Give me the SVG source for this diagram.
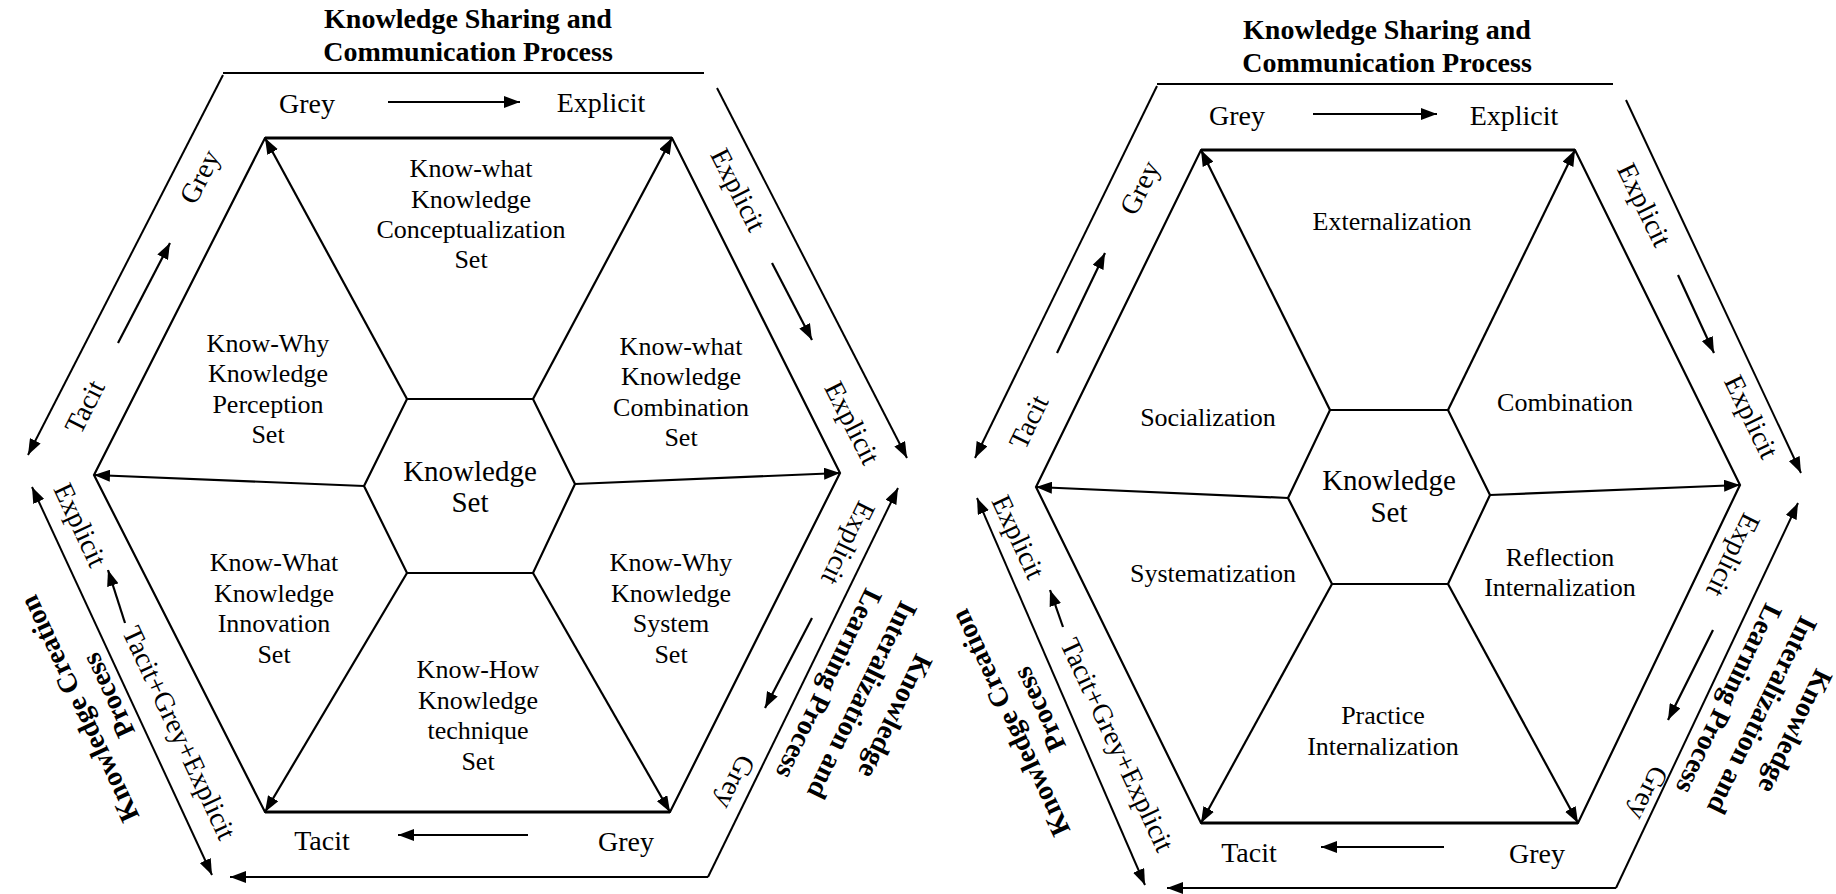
<svg xmlns="http://www.w3.org/2000/svg" width="1836" height="894" viewBox="0 0 1836 894">
  <style>
    text { font-family: "Liberation Serif", "Times New Roman", serif; fill: #000; text-anchor: middle; }
    .lbl { font-size: 26px; }
    .core { font-size: 29px; }
    .kind { font-size: 28px; }
    .proc { font-size: 28px; font-weight: bold; }
    .edge { fill: none; stroke: #000; stroke-width: 2.2; stroke-linejoin: miter; }
    .rim { fill: none; stroke: #000; stroke-width: 3; }
    .spoke { fill: none; stroke: #000; stroke-width: 2.2; marker-end: url(#ah); }
    .band { fill: none; stroke: #000; stroke-width: 2; }
    .band-a { fill: none; stroke: #000; stroke-width: 2; marker-end: url(#ah); }
    .band-aa { fill: none; stroke: #000; stroke-width: 2; marker-start: url(#ahs); marker-end: url(#ah); }
    .flow { fill: none; stroke: #000; stroke-width: 2.2; marker-end: url(#ah); }
  </style>
  <defs>
    <marker id="ah" viewBox="0 0 16 12" refX="16" refY="6" markerWidth="16" markerHeight="12" markerUnits="userSpaceOnUse" orient="auto">
      <path d="M0,0 L16,6 L0,12 z" fill="#000"/>
    </marker>
    <marker id="ahs" viewBox="0 0 16 12" refX="16" refY="6" markerWidth="16" markerHeight="12" markerUnits="userSpaceOnUse" orient="auto-start-reverse">
      <path d="M0,0 L16,6 L0,12 z" fill="#000"/>
    </marker>
  </defs>
  <rect width="1836" height="894" fill="#fff"/>

  <!-- ===== Left model: knowledge sets ===== -->
  <g id="left-frame">
    <polygon class="edge" points="265,138 672,138 840,473 670,812 265,812 94,475"/>
    <line class="rim" x1="265" y1="138" x2="672" y2="138"/>
    <line class="rim" x1="265" y1="812" x2="670" y2="812"/>
  </g>
  <g id="left-core">
    <polygon class="edge" points="407,399 533,399 575,484 533,573 407,573 364,486"/>
    <text class="core"><tspan x="470" y="481">Knowledge</tspan><tspan x="470" y="512">Set</tspan></text>
  </g>
  <g id="left-conceptualization">
    <text class="lbl"><tspan x="471" y="177">Know-what</tspan><tspan x="471" y="208">Knowledge</tspan><tspan x="471" y="238">Conceptualization</tspan><tspan x="471" y="268">Set</tspan></text>
  </g>
  <g id="left-perception">
    <text class="lbl"><tspan x="268" y="352">Know-Why</tspan><tspan x="268" y="382">Knowledge</tspan><tspan x="268" y="413">Perception</tspan><tspan x="268" y="443">Set</tspan></text>
  </g>
  <g id="left-combination">
    <text class="lbl"><tspan x="681" y="355">Know-what</tspan><tspan x="681" y="385">Knowledge</tspan><tspan x="681" y="416">Combination</tspan><tspan x="681" y="446">Set</tspan></text>
  </g>
  <g id="left-innovation">
    <text class="lbl"><tspan x="274" y="571">Know-What</tspan><tspan x="274" y="602">Knowledge</tspan><tspan x="274" y="632">Innovation</tspan><tspan x="274" y="663">Set</tspan></text>
  </g>
  <g id="left-system">
    <text class="lbl"><tspan x="671" y="571">Know-Why</tspan><tspan x="671" y="602">Knowledge</tspan><tspan x="671" y="632">System</tspan><tspan x="671" y="663">Set</tspan></text>
  </g>
  <g id="left-technique">
    <text class="lbl"><tspan x="478" y="678">Know-How</tspan><tspan x="478" y="709">Knowledge</tspan><tspan x="478" y="739">technique</tspan><tspan x="478" y="770">Set</tspan></text>
  </g>

  <!-- left model: process captions -->
  <g id="left-sharing-process">
    <text class="proc"><tspan x="468" y="28">Knowledge Sharing and</tspan><tspan x="468" y="61">Communication Process</tspan></text>
  </g>
  <g id="left-creation-process" transform="translate(94,702) rotate(-115)">
    <text class="proc"><tspan x="0" y="-7">Knowledge Creation</tspan><tspan x="0" y="25">Process</tspan></text>
  </g>
  <g id="left-learning-process" transform="translate(862,700) rotate(116)">
    <text class="proc"><tspan x="0" y="-28">Knowledge</tspan><tspan x="0" y="9">Interalization and</tspan><tspan x="0" y="46">Learning Process</tspan></text>
  </g>

  <!-- left model: knowledge-state words -->
  <g id="left-states">
    <text class="kind" x="307" y="113">Grey</text>
    <text class="kind" x="601" y="112">Explicit</text>
    <text class="kind" x="322" y="850">Tacit</text>
    <text class="kind" x="626" y="851">Grey</text>
    <text class="kind" transform="translate(200,177) rotate(-63)" x="0" y="9">Grey</text>
    <text class="kind" transform="translate(85,407) rotate(-63)" x="0" y="9">Tacit</text>
    <text class="kind" transform="translate(738,190) rotate(63)" x="0" y="9">Explicit</text>
    <text class="kind" transform="translate(852,423) rotate(63)" x="0" y="9">Explicit</text>
    <text class="kind" transform="translate(80,525) rotate(65)" x="0" y="9">Explicit</text>
    <text class="kind" transform="translate(848,543) rotate(116)" x="0" y="9">Explicit</text>
    <text class="kind" transform="translate(735,782) rotate(116)" x="0" y="9">Grey</text>
    <text class="kind" transform="translate(179,733) rotate(65)" x="0" y="9">Tacit+Grey+Explicit</text>
  </g>

  <g id="left-connectors">
    <!-- spokes from the core to the frame corners -->
    <line class="spoke" x1="407" y1="399" x2="265" y2="138"/>
    <line class="spoke" x1="533" y1="399" x2="672" y2="138"/>
    <line class="spoke" x1="575" y1="484" x2="840" y2="473"/>
    <line class="spoke" x1="533" y1="573" x2="670" y2="812"/>
    <line class="spoke" x1="407" y1="573" x2="265" y2="812"/>
    <line class="spoke" x1="364" y1="486" x2="94" y2="475"/>
    <!-- outer band -->
    <line class="band" x1="223" y1="73" x2="704" y2="73"/>
    <line class="band-a" x1="223" y1="75" x2="28" y2="455"/>
    <line class="band-a" x1="717" y1="88" x2="907" y2="458"/>
    <line class="band-a" x1="708" y1="877" x2="898" y2="488"/>
    <line class="band-a" x1="708" y1="877" x2="230" y2="877"/>
    <line class="band-aa" x1="212" y1="875" x2="32" y2="487"/>
    <!-- short flow arrows -->
    <line class="flow" x1="388" y1="102" x2="520" y2="102"/>
    <line class="flow" x1="118" y1="343" x2="170" y2="243"/>
    <line class="flow" x1="772" y1="263" x2="812" y2="340"/>
    <line class="flow" x1="812" y1="618" x2="765" y2="708"/>
    <line class="flow" x1="528" y1="835" x2="398" y2="835"/>
    <line class="flow" x1="125" y1="623" x2="108" y2="570"/>
  </g>

  <!-- ===== Right model: conversion modes ===== -->
  <g id="right-frame">
    <polygon class="edge" points="1201,150 1575,150 1740,485 1578,823 1201,823 1036,487"/>
    <line class="rim" x1="1201" y1="150" x2="1575" y2="150"/>
    <line class="rim" x1="1201" y1="823" x2="1578" y2="823"/>
  </g>
  <g id="right-core">
    <polygon class="edge" points="1330,410 1448,410 1490,495 1448,584 1332,584 1288,498"/>
    <text class="core"><tspan x="1389" y="490">Knowledge</tspan><tspan x="1389" y="522">Set</tspan></text>
  </g>
  <g id="right-externalization"><text class="lbl" x="1392" y="230">Externalization</text></g>
  <g id="right-socialization"><text class="lbl" x="1208" y="426">Socialization</text></g>
  <g id="right-combination"><text class="lbl" x="1565" y="411">Combination</text></g>
  <g id="right-systematization"><text class="lbl" x="1213" y="582">Systematization</text></g>
  <g id="right-reflection">
    <text class="lbl"><tspan x="1560" y="566">Reflection</tspan><tspan x="1560" y="596">Internalization</tspan></text>
  </g>
  <g id="right-practice">
    <text class="lbl"><tspan x="1383" y="724">Practice</tspan><tspan x="1383" y="755">Internalization</tspan></text>
  </g>

  <!-- right model: process captions -->
  <g id="right-sharing-process">
    <text class="proc"><tspan x="1387" y="39">Knowledge Sharing and</tspan><tspan x="1387" y="72">Communication Process</tspan></text>
  </g>
  <g id="right-creation-process" transform="translate(1025,716) rotate(-115)">
    <text class="proc"><tspan x="0" y="-7">Knowledge Creation</tspan><tspan x="0" y="25">Process</tspan></text>
  </g>
  <g id="right-learning-process" transform="translate(1762,715) rotate(116)">
    <text class="proc"><tspan x="0" y="-28">Knowledge</tspan><tspan x="0" y="9">Interalization and</tspan><tspan x="0" y="46">Learning Process</tspan></text>
  </g>

  <!-- right model: knowledge-state words -->
  <g id="right-states">
    <text class="kind" x="1237" y="125">Grey</text>
    <text class="kind" x="1514" y="125">Explicit</text>
    <text class="kind" x="1249" y="862">Tacit</text>
    <text class="kind" x="1537" y="863">Grey</text>
    <text class="kind" transform="translate(1140,188) rotate(-64)" x="0" y="9">Grey</text>
    <text class="kind" transform="translate(1029,422) rotate(-64)" x="0" y="9">Tacit</text>
    <text class="kind" transform="translate(1644,205) rotate(64)" x="0" y="9">Explicit</text>
    <text class="kind" transform="translate(1751,417) rotate(64)" x="0" y="9">Explicit</text>
    <text class="kind" transform="translate(1018,537) rotate(65)" x="0" y="9">Explicit</text>
    <text class="kind" transform="translate(1733,555) rotate(116)" x="0" y="9">Explicit</text>
    <text class="kind" transform="translate(1648,793) rotate(116)" x="0" y="9">Grey</text>
    <text class="kind" transform="translate(1117,745) rotate(65)" x="0" y="9">Tacit+Grey+Explicit</text>
  </g>

  <g id="right-connectors">
    <!-- spokes from the core to the frame corners -->
    <line class="spoke" x1="1330" y1="410" x2="1201" y2="150"/>
    <line class="spoke" x1="1448" y1="410" x2="1575" y2="150"/>
    <line class="spoke" x1="1490" y1="495" x2="1740" y2="485"/>
    <line class="spoke" x1="1448" y1="584" x2="1578" y2="823"/>
    <line class="spoke" x1="1332" y1="584" x2="1201" y2="823"/>
    <line class="spoke" x1="1288" y1="498" x2="1036" y2="487"/>
    <!-- outer band -->
    <line class="band" x1="1157" y1="84" x2="1613" y2="84"/>
    <line class="band-a" x1="1157" y1="86" x2="975" y2="458"/>
    <line class="band-a" x1="1626" y1="100" x2="1801" y2="473"/>
    <line class="band-a" x1="1616" y1="888" x2="1798" y2="503"/>
    <line class="band-a" x1="1616" y1="888" x2="1167" y2="888"/>
    <line class="band-aa" x1="1145" y1="885" x2="977" y2="498"/>
    <!-- short flow arrows -->
    <line class="flow" x1="1313" y1="114" x2="1437" y2="114"/>
    <line class="flow" x1="1057" y1="353" x2="1105" y2="253"/>
    <line class="flow" x1="1678" y1="275" x2="1714" y2="353"/>
    <line class="flow" x1="1713" y1="630" x2="1668" y2="720"/>
    <line class="flow" x1="1444" y1="847" x2="1321" y2="847"/>
    <line class="flow" x1="1063" y1="627" x2="1050" y2="590"/>
  </g>
</svg>
